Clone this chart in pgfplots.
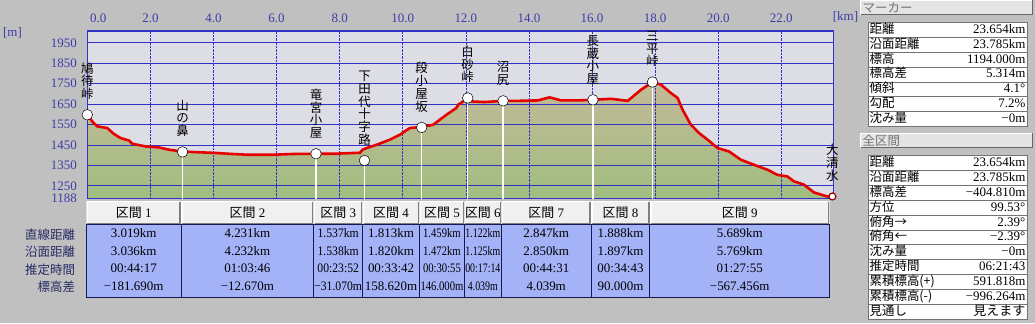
\documentclass[border=0pt]{standalone}
\usepackage{fontspec}
\setmainfont{Liberation Serif}
\newfontfamily\jp{Noto Sans CJK JP}
\usepackage{graphicx}
\usepackage{pgfplots}
\pgfplotsset{compat=1.18}
\definecolor{bg}{RGB}{192,192,192}
\definecolor{plotbg}{RGB}{221,221,229}
\definecolor{gridblue}{RGB}{50,50,200}
\definecolor{ticklab}{RGB}{60,60,170}
\definecolor{filltop}{RGB}{196,185,152}
\definecolor{fillmid}{RGB}{182,186,142}
\definecolor{fillbot}{RGB}{160,190,128}
\definecolor{cellblue}{RGB}{164,178,248}
\definecolor{navy}{RGB}{24,24,80}
\definecolor{hdr}{RGB}{240,240,240}
\definecolor{lbl}{RGB}{40,44,100}
\definecolor{bar}{RGB}{228,228,228}
\definecolor{line}{RGB}{230,0,0}
\begin{document}
\pagecolor{bg}
\begin{tikzpicture}[x=1pt,y=1pt]
\path (0,0) rectangle (1035,-324);

\begin{axis}[
  at={(85pt,-199pt)}, anchor=south west,
  scale only axis, width=748pt, height=168pt,
  xmin=0, xmax=23.654, ymin=1188, ymax=2008,
  set layers, clip mode=individual,
  axis background/.style={fill=plotbg},
  axis line style={gridblue, line width=1.2pt},
  xtick={0,2,...,22},
  xticklabels={\hspace*{22pt}0.0,2.0,4.0,6.0,8.0,10.0,12.0,14.0,16.0,18.0,20.0,22.0},
  xticklabel pos=right,
  ytick={1188,1250,1350,1450,1550,1650,1750,1850,1950},
  yticklabels={1188,1250,1350,1450,1550,1650,1750,1850,1950},
  major tick length=0pt,
  tick label style={font=\fontsize{13}{13}\selectfont, text=ticklab},
  xticklabel style={yshift=5pt},
  yticklabel style={xshift=-7pt},
  xmajorgrids, ymajorgrids,
  x grid style={gridblue, densely dotted, line width=0.7pt},
  y grid style={gridblue, line width=0.9pt},
]
\addplot[draw=none, top color=filltop, middle color=fillmid, bottom color=fillbot, on layer=axis background] coordinates {
(0,1188) (0,1600) (0.158,1565) (0.316,1541) (0.633,1533) (0.844,1504) (1.053,1484) (1.319,1472) (1.423,1456) (1.844,1443) (2.268,1438) (2.584,1427) (3.004,1418) (3.425,1415) (4.057,1411) (4.586,1406) (5.114,1402) (5.851,1402) (6.537,1406) (7.242,1407) (7.802,1407) (8.643,1412) (8.729,1427) (8.855,1435) (9.171,1451) (9.592,1476) (9.908,1500) (10.224,1533) (10.594,1538) (10.964,1549) (11.385,1598) (11.701,1631) (11.755,1647) (11.913,1663) (12.049,1680) (12.176,1663) (12.596,1660) (13.178,1666) (13.653,1666) (14.285,1668) (14.652,1683) (15.022,1668) (15.55,1668) (16.044,1671) (16.6,1676) (17.131,1666) (17.552,1720) (17.922,1758) (18.185,1745) (18.5,1704) (18.713,1680) (18.871,1622) (19.133,1549) (19.396,1508) (19.662,1476) (19.978,1435) (20.345,1418) (20.715,1378) (21.135,1353) (21.559,1329) (21.875,1304) (22.191,1296) (22.4,1272) (22.716,1256) (23.033,1218) (23.457,1198) (23.615,1202) (23.654,1194) (23.654,1188)
};
\addplot[ycomb, white, line width=1.3pt, no markers] coordinates {
(3.019,1416) (7.25,1407) (8.787,1374) (10.6,1536) (12.059,1680) (13.181,1666) (16.028,1671) (17.916,1758)
};
\addplot[line, line width=2.6pt] coordinates {
(0,1600) (0.158,1565) (0.316,1541) (0.633,1533) (0.844,1504) (1.053,1484) (1.319,1472) (1.423,1456) (1.844,1443) (2.268,1438) (2.584,1427) (3.004,1418) (3.425,1415) (4.057,1411) (4.586,1406) (5.114,1402) (5.851,1402) (6.537,1406) (7.242,1407) (7.802,1407) (8.643,1412) (8.729,1427) (8.855,1435) (9.171,1451) (9.592,1476) (9.908,1500) (10.224,1533) (10.594,1538) (10.964,1549) (11.385,1598) (11.701,1631) (11.755,1647) (11.913,1663) (12.049,1680) (12.176,1663) (12.596,1660) (13.178,1666) (13.653,1666) (14.285,1668) (14.652,1683) (15.022,1668) (15.55,1668) (16.044,1671) (16.6,1676) (17.131,1666) (17.552,1720) (17.922,1758) (18.185,1745) (18.5,1704) (18.713,1680) (18.871,1622) (19.133,1549) (19.396,1508) (19.662,1476) (19.978,1435) (20.345,1418) (20.715,1378) (21.135,1353) (21.559,1329) (21.875,1304) (22.191,1296) (22.4,1272) (22.716,1256) (23.033,1218) (23.457,1198) (23.615,1202) (23.654,1194)
};
\addplot[only marks, mark=*, mark size=5.3pt, mark options={fill=white, draw=black, line width=0.5pt}] coordinates {
(0,1598) (3.019,1416) (7.25,1407) (8.787,1374) (10.6,1536) (12.059,1680) (13.181,1666) (16.028,1671) (17.916,1758)
};
\addplot[only marks, mark=*, mark size=3.5pt, mark options={fill=white, draw=red!60!black, line width=1.2pt}] coordinates {(23.62,1198)};

\begin{scope}[every node/.style={anchor=south, align=center, inner sep=0pt, yshift=15pt, font=\jp\fontsize{12.5}{12.8}\selectfont}]
\node at (axis cs:0,1598) {鳩\\待\\峠};
\node at (axis cs:3.019,1416) {山\\の\\鼻};
\node at (axis cs:7.25,1407) {竜\\宮\\小\\屋};
\node at (axis cs:8.787,1374) {下\\田\\代\\十\\字\\路};
\node at (axis cs:10.6,1536) {段\\小\\屋\\坂};
\node at (axis cs:12.059,1680) {白\\砂\\峠};
\node at (axis cs:13.181,1666) {沼\\尻};
\node at (axis cs:16.028,1671) {長\\蔵\\小\\屋};
\node at (axis cs:17.916,1758) {三\\平\\峠};
\node at (axis cs:23.62,1198) {大\\清\\水};
\end{scope}
\end{axis}

% unit labels
\node[text=ticklab, font=\fontsize{13}{13}\selectfont] at (10,-33) {[m]};
\node[text=ticklab, font=\fontsize{13}{13}\selectfont] at (845,-17) {[km]};

% section header row
\foreach \a/\b/\n in {84/179/1,179/312/2,312/361/3,361/418/4,418/463/5,463/500/6,500/590/7,590/649/8,649/829/9} {
  \begin{scope}
  \clip (\a,-201) rectangle (\b,-225);
  \fill[hdr] (\a,-201) rectangle (\b,-225);
  \draw[white, line width=1.5pt] (\a+1,-224) -- (\a+1,-202) -- (\b-1,-202);
  \draw[gray, line width=1.5pt] (\a+1,-224) -- (\b-1,-224) -- (\b-1,-202);
  \node[inner sep=0pt, font=\fontsize{13}{13}\selectfont] at ({(\a+\b)/2},-213.5) {{\jp 区間}~\n};
  \end{scope}
}
% data block
\fill[cellblue] (84,-225) rectangle (829,-298);
\foreach \a/\b/\k/\p/\q/\r/\s in {
  84/179/1/3.019km/3.036km/00:44:17/−181.690m,
  179/312/1/4.231km/4.232km/01:03:46/−12.670m,
  312/361/0.9/1.537km/1.538km/00:23:52/−31.070m,
  361/418/1/1.813km/1.820km/00:33:42/158.620m,
  418/463/0.82/1.459km/1.472km/00:30:55/146.000m,
  463/500/0.76/1.122km/1.125km/00:17:14/4.039m,
  500/590/1/2.847km/2.850km/00:44:31/4.039m,
  590/649/1/1.888km/1.897km/00:34:43/90.000m,
  649/829/1/5.689km/5.769km/01:27:55/−567.456m} {
  \begin{scope}
  \clip (\a,-225) rectangle (\b,-298);
  \begin{scope}[every node/.style={inner sep=0pt, text height=9pt, text depth=2pt, font=\fontsize{13}{13}\selectfont}]
  \node at ({(\a+\b)/2},-235) {\scalebox{\k}[1]{\p}};
  \node at ({(\a+\b)/2},-252.5) {\scalebox{\k}[1]{\q}};
  \node at ({(\a+\b)/2},-270) {\scalebox{\k}[1]{\r}};
  \node at ({(\a+\b)/2},-287.5) {\scalebox{\k}[1]{\s}};
  \end{scope}
  \end{scope}
}
\draw[navy, line width=1.2pt] (84,-225) rectangle (829,-298);
\foreach \x in {179,312,361,418,463,500,590,649} \draw[navy, line width=1pt] (\x,-225) -- (\x,-298);
% row labels
\begin{scope}[every node/.style={anchor=east, inner sep=0pt, text=lbl, font=\jp\fontsize{12.5}{13}\selectfont}]
\node at (73,-235) {直線距離};
\node at (73,-252.5) {沿面距離};
\node at (73,-270) {推定時間};
\node at (73,-287.5) {標高差};
\end{scope}

% right panel
\foreach \ya/\yb/\t in {0/15.5/マーカー, 133/148.5/全区間} {
  \fill[bar] (860,-\ya) rectangle (1033,-\yb);
  \draw[white, line width=1pt] (860.5,-\yb+0.5) -- (860.5,-\ya-0.5) -- (1032.5,-\ya-0.5);
  \draw[black!60, line width=1pt] (860.5,-\yb+0.5) -- (1032.5,-\yb+0.5) -- (1032.5,-\ya-0.5);
  \node[anchor=west, inner sep=0pt, text=black!55, font=\jp\fontsize{12.5}{13}\selectfont] at (862,{-(\ya+\yb)/2}) {\t};
}
\foreach \i/\l/\v in {0/距離/23.654km, 1/沿面距離/23.785km, 2/標高/1194.000m, 3/標高差/5.314m, 4/傾斜/4.1°, 5/勾配/7.2\%, 6/沈み量/−0m} {
  \fill[white] (867.5,{-22.5-14.9*\i}) rectangle (1027,{-22.5-14.9*(\i+1)});
  \draw[black!55, line width=0.7pt] (867.5,{-22.5-14.9*\i}) rectangle (1027,{-22.5-14.9*(\i+1)});
  \node[anchor=west, inner sep=0pt, text height=9pt, text depth=2pt, font=\jp\fontsize{12.5}{13}\selectfont] at (869,{-22.5-14.9*\i-7.45}) {\l};
  \node[anchor=east, inner sep=0pt, text height=9pt, text depth=2pt, font=\fontsize{13}{13}\selectfont] at (1025.5,{-22.5-14.9*\i-7.45}) {\v};
}
\foreach \i/\l/\v in {0/距離/23.654km, 1/沿面距離/23.785km, 2/標高差/−404.810m, 3/方位/99.53°, 4/俯角→/2.39°, 5/俯角←/−2.39°, 6/沈み量/−0m, 7/推定時間/06:21:43, 8/累積標高(+)/591.818m, 9/累積標高(-)/−996.264m, 10/見通し/{\jp 見えます}} {
  \fill[white] (867.5,{-156-14.9*\i}) rectangle (1027,{-156-14.9*(\i+1)});
  \draw[black!55, line width=0.7pt] (867.5,{-156-14.9*\i}) rectangle (1027,{-156-14.9*(\i+1)});
  \node[anchor=west, inner sep=0pt, text height=9pt, text depth=2pt, font=\jp\fontsize{12.5}{13}\selectfont] at (869,{-156-14.9*\i-7.45}) {\l};
  \node[anchor=east, inner sep=0pt, text height=9pt, text depth=2pt, font=\fontsize{13}{13}\selectfont] at (1025.5,{-156-14.9*\i-7.45}) {\v};
}
\pgfresetboundingbox
\useasboundingbox (0,0) rectangle (1035,-324);
\end{tikzpicture}
\end{document}
